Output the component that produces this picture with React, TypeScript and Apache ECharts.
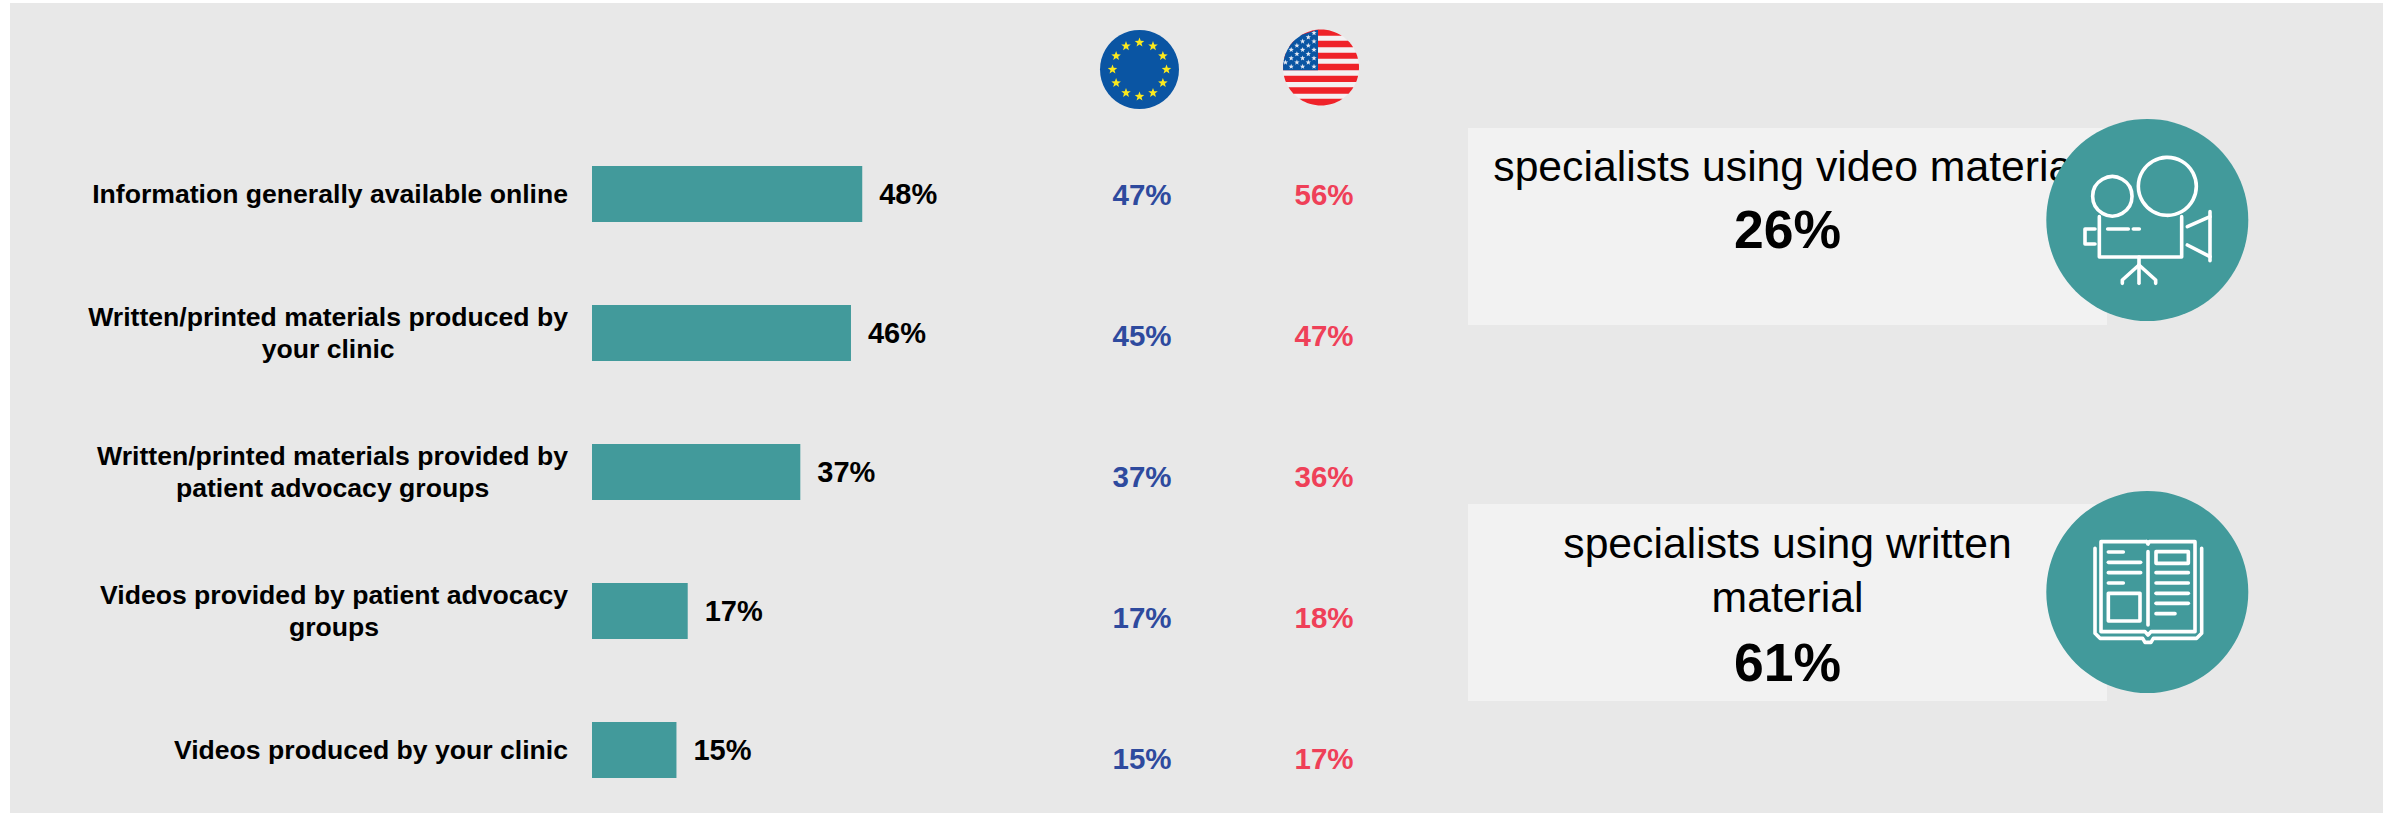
import React, { useEffect, useRef } from "react";
import * as echarts from "echarts";

const categories = [
  "Information generally available online",
  "Written/printed materials produced by\nyour clinic",
  "Written/printed materials provided by\npatient advocacy groups",
  "Videos provided by patient advocacy\ngroups",
  "Videos produced by your clinic",
];
const overallValues = [48, 46, 37, 17, 15];
const euValues = [47, 45, 37, 17, 15];
const usValues = [56, 47, 36, 18, 17];
const regions = ["EU", "US"];

const TEAL = "#429A9B";
const FONT = "'Liberation Sans', Arial, sans-serif";

function star(cx: number, cy: number, R: number) {
  const pts: number[][] = [];
  for (let i = 0; i < 10; i++) {
    const r = i % 2 ? R * 0.42 : R;
    const a = -Math.PI / 2 + (i * Math.PI) / 5;
    pts.push([cx + r * Math.cos(a), cy + r * Math.sin(a)]);
  }
  return pts;
}

function segment(cx: number, cy: number, r: number, y0: number, y1: number, xMax = Infinity) {
  const left: number[][] = [];
  const right: number[][] = [];
  for (let k = 0; k <= 8; k++) {
    const y = y0 + ((y1 - y0) * k) / 8;
    const dx = Math.sqrt(Math.max(0, r * r - (y - cy) * (y - cy)));
    left.push([cx - dx, y]);
    right.unshift([Math.min(cx + dx, xMax), y]);
  }
  return [...left, ...right];
}

function flags() {
  const out: any[] = [];
  const ex = 1139.5, ey = 69.5;
  out.push({ type: "circle", shape: { cx: ex, cy: ey, r: 39.5 }, style: { fill: "#0A55A3" } });
  for (let i = 0; i < 12; i++) {
    const a = (i * Math.PI) / 6;
    out.push({
      type: "polygon",
      shape: { points: star(ex + 27 * Math.cos(a), ey + 27 * Math.sin(a), 5) },
      style: { fill: "#FBE91D" },
    });
  }
  const ux = 1321, uy = 67.5, ur = 38;
  out.push({ type: "circle", shape: { cx: ux, cy: uy, r: ur }, style: { fill: "#F4F0F2" } });
  const stripes = [[29.6, 35.7], [40.7, 47.3], [52.7, 58.7], [63.7, 70.3], [75.7, 82], [87.3, 93.7], [98.7, 105.4]];
  stripes.forEach(([a, b]) =>
    out.push({ type: "polygon", shape: { points: segment(ux, uy, ur, a, b) }, style: { fill: "#EF2229" } })
  );
  out.push({ type: "polygon", shape: { points: segment(ux, uy, ur, 29.6, 70.3, 1318) }, style: { fill: "#0A55A3" } });
  for (let row = 0; row < 9; row++) {
    const y = 33 + row * 4.2;
    for (let col = 0; col < 6; col++) {
      const x = 1314 - col * 11.4 - (row % 2 ? 5.7 : 0);
      if ((x - ux) ** 2 + (y - uy) ** 2 < (ur - 2) ** 2) {
        out.push({ type: "polygon", shape: { points: star(x, y, 2.8) }, style: { fill: "#E4E8F2" } });
      }
    }
  }
  return out;
}

const iconStroke = { stroke: "#FFFFFF", lineWidth: 3.6, lineCap: "round", lineJoin: "round", fill: "none" };

function poly(ox: number, oy: number, pts: number[][]) {
  return {
    type: "polyline",
    z: 5,
    shape: { points: pts.map(([x, y]) => [ox + x / 3, oy + y / 3]) },
    style: iconStroke,
  };
}

function videoIcon() {
  const ox = 2020, oy = 110;
  return [
    { type: "circle", z: 4, shape: { cx: 2147.3, cy: 220, r: 101 }, style: { fill: TEAL } },
    { type: "circle", z: 5, shape: { cx: ox + 442 / 3, cy: oy + 229 / 3, r: 29 }, style: iconStroke },
    { type: "circle", z: 5, shape: { cx: ox + 277 / 3, cy: oy + 259 / 3, r: 19.7 }, style: iconStroke },
    poly(ox, oy, [[238, 320], [238, 441], [485, 441], [485, 320]]),
    poly(ox, oy, [[263, 357], [325, 357]]),
    poly(ox, oy, [[340, 357], [358, 357]]),
    poly(ox, oy, [[225, 357], [195, 357], [195, 402], [225, 402]]),
    poly(ox, oy, [[502, 350], [570, 320]]),
    poly(ox, oy, [[570, 305], [570, 452]]),
    poly(ox, oy, [[502, 405], [570, 440]]),
    poly(ox, oy, [[357, 441], [357, 520]]),
    poly(ox, oy, [[357, 465], [307, 510], [307, 520]]),
    poly(ox, oy, [[357, 465], [407, 510], [407, 520]]),
  ];
}

function bookIcon() {
  const ox = 2020, oy = 480;
  const lines = [
    [265, 310, 216], [265, 362, 247], [265, 362, 278], [265, 310, 309],
    [408, 505, 278], [408, 505, 309], [408, 505, 340], [408, 505, 370], [408, 465, 401],
  ];
  return [
    { type: "circle", z: 4, shape: { cx: 2147.3, cy: 592, r: 101 }, style: { fill: TEAL } },
    poly(ox, oy, [[380, 185], [243, 185], [243, 455], [375, 455], [384, 465], [393, 455], [525, 455], [525, 185], [388, 185], [384, 192], [380, 185]]),
    poly(ox, oy, [[225, 205], [225, 460], [240, 475], [368, 475], [375, 487], [393, 487], [400, 475], [530, 475], [545, 460], [545, 205]]),
    poly(ox, oy, [[384, 215], [384, 435]]),
    ...lines.map(([a, b, y]) => poly(ox, oy, [[a, y], [b, y]])),
    poly(ox, oy, [[265, 340], [360, 340], [360, 423], [265, 423], [265, 340]]),
    poly(ox, oy, [[408, 215], [505, 215], [505, 250], [408, 250], [408, 215]]),
  ];
}

function boxText(text: string, y: number, size: number, bold: boolean) {
  return {
    type: "text",
    z: 3,
    style: {
      x: 1787.5,
      y,
      text,
      fill: "#000000",
      font: `${bold ? "bold " : ""}${size}px ${FONT}`,
      textAlign: "center",
      textVerticalAlign: "middle",
    },
  };
}

function regionSeries(xIndex: number, values: number[], color: string) {
  return {
    type: "scatter",
    xAxisIndex: 1,
    yAxisIndex: 1,
    symbolSize: 0,
    silent: true,
    itemStyle: { opacity: 1 },
    data: values.map((v, i) => [xIndex, i, v]),
    label: {
      show: true,
      position: "inside",
      opacity: 1,
      formatter: (p: any) => `${p.value[2]}%`,
      color,
      fontFamily: FONT,
      fontWeight: "bold",
      fontSize: 29.5,
    },
  };
}

export default function App() {
  const ref = useRef<HTMLDivElement>(null);
  useEffect(() => {
    const chart = echarts.init(ref.current!, undefined, { renderer: "svg" });
    chart.setOption({
      animation: false,
      backgroundColor: "#FFFFFF",
      grid: [
        { left: 592, top: 124.5, width: 563, height: 695, outerBoundsMode: "none" },
        { left: 1051, top: 123.5, width: 364, height: 706, outerBoundsMode: "none" },
      ],
      xAxis: [
        { type: "value", gridIndex: 0, min: 0, max: 100, show: false },
        { type: "category", gridIndex: 1, data: regions, show: false },
      ],
      yAxis: [
        {
          type: "category",
          gridIndex: 0,
          inverse: true,
          data: categories,
          axisLine: { show: false },
          axisTick: { show: false },
          axisLabel: {
            margin: 24,
            align: "right",
            formatter: (v: string) => v.split("\n").map((l) => `{a|${l}}`).join("\n"),
            rich: {
              a: {
                align: "center",
                fontFamily: FONT,
                fontWeight: "bold",
                fontSize: 26.6,
                lineHeight: 32,
                color: "#000000",
              },
            },
          },
        },
        { type: "category", gridIndex: 1, inverse: true, data: categories, show: false },
      ],
      series: [
        {
          type: "bar",
          xAxisIndex: 0,
          yAxisIndex: 0,
          barWidth: 56,
          data: overallValues,
          itemStyle: { color: TEAL },
          label: {
            show: true,
            position: "right",
            distance: 17,
            formatter: "{c}%",
            color: "#000000",
            fontFamily: FONT,
            fontWeight: "bold",
            fontSize: 29,
          },
        },
        regionSeries(0, euValues, "#2E4A9E"),
        regionSeries(1, usValues, "#EF4058"),
      ],
      graphic: {
        elements: [
          { type: "rect", z: -10, silent: true, shape: { x: 10, y: 3, width: 2373, height: 810 }, style: { fill: "#E8E8E8" } },
          { type: "rect", z: 1, shape: { x: 1468, y: 128, width: 639, height: 197 }, style: { fill: "#F2F2F2" } },
          { type: "rect", z: 1, shape: { x: 1468, y: 504, width: 639, height: 197 }, style: { fill: "#F2F2F2" } },
          boxText("specialists using video material", 166, 42.7, false),
          boxText("26%", 229, 53.5, true),
          boxText("specialists using written", 543, 42.7, false),
          boxText("material", 597, 42.7, false),
          boxText("61%", 662, 53.5, true),
          ...videoIcon(),
          ...bookIcon(),
          ...flags(),
        ],
      },
    });
    return () => chart.dispose();
  }, []);
  return <div ref={ref} style={{ position: "fixed", left: 0, top: 0, width: 2394, height: 813 }} />;
}
